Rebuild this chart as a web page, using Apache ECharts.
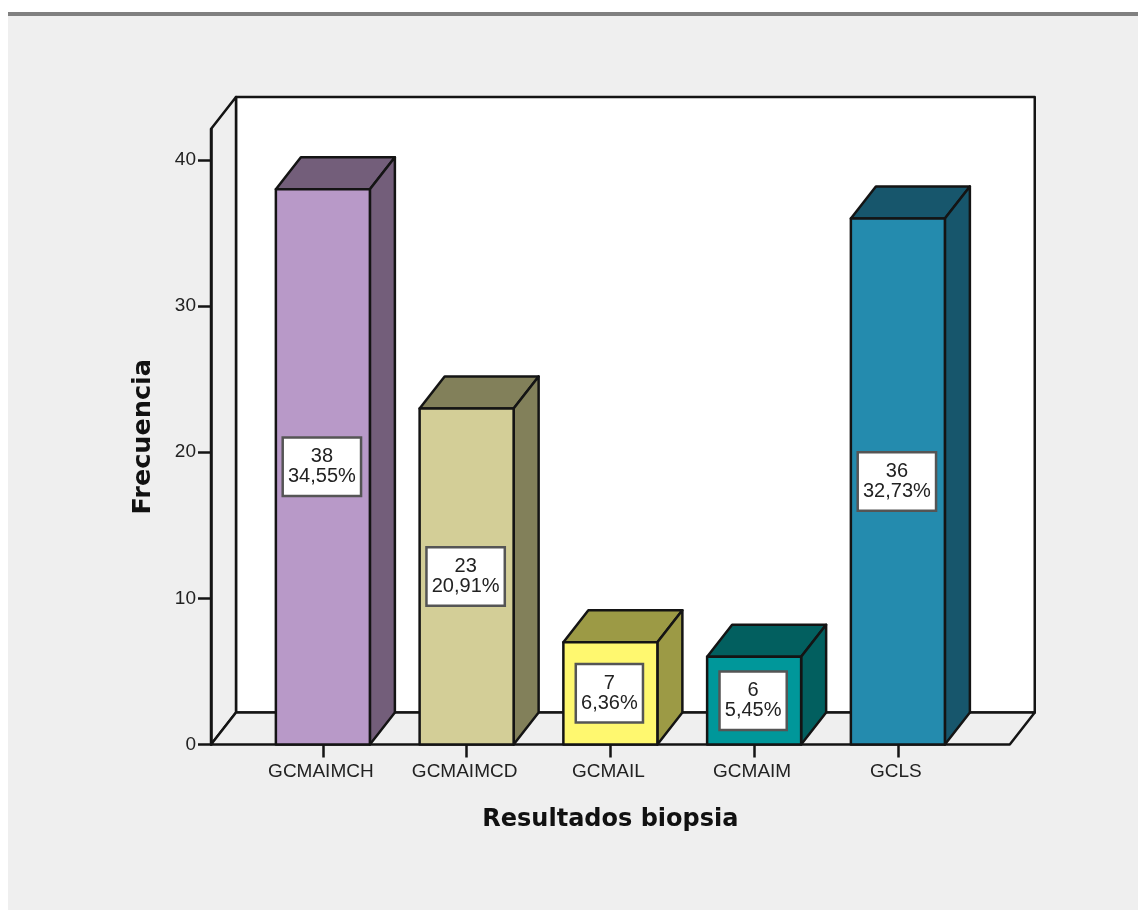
<!DOCTYPE html>
<html>
<head>
<meta charset="utf-8">
<title>Resultados biopsia</title>
<script src="https://cdn.jsdelivr.net/npm/echarts@6/dist/echarts.min.js"></script>
<style>
  html, body { margin: 0; padding: 0; background: #fff; overflow: hidden; }
  #chart {
    position: absolute; left: 8px; top: 12px;
    width: 1130px; height: 894px;
    border-top: 4px solid #808080;
  }
</style>
</head>
<body>
<div id="chart"></div>
<script>
// Frequencies by biopsy result
const categories = ['GCMAIMCH', 'GCMAIMCD', 'GCMAIL', 'GCMAIM', 'GCLS'];
const frequencies = [38, 23, 7, 6, 36];
const percentages = ['34,55%', '20,91%', '6,36%', '5,45%', '32,73%'];
const yTicks = [0, 10, 20, 30, 40];

// Face colours per bar: [front, top and side]
const palette = [
  ['#B899C8', '#735E7A'],
  ['#D3CE97', '#82805A'],
  ['#FFF86F', '#9C9A45'],
  ['#00979A', '#025F5F'],
  ['#248BAE', '#17566C']
];

const FONT = '"Liberation Sans", Arial, sans-serif';
const INK = '#141414';
const DEPTH_X = 25;      // receding offset of the 3D walls and bars
const DEPTH_Y = 32;
const FLOOR_PAD = 40;    // floor extends past the category band on each side
const BAR_RATIO = 0.654;

const edge = { stroke: INK, lineWidth: 2.5, lineJoin: 'round' };

function poly(points, fill) {
  return { type: 'polygon', shape: { points }, style: Object.assign({ fill }, edge) };
}

// Back wall, left wall and floor of the box
function renderFrame(params, api) {
  const c = params.coordSys;
  const l = c.x - FLOOR_PAD, r = c.x + c.width + FLOOR_PAD;
  const t = c.y, b = c.y + c.height;
  return {
    type: 'group',
    children: [
      poly([[l + DEPTH_X, t - DEPTH_Y], [r + DEPTH_X, t - DEPTH_Y],
            [r + DEPTH_X, b - DEPTH_Y], [l + DEPTH_X, b - DEPTH_Y]], '#ffffff'),
      poly([[l, t], [l + DEPTH_X, t - DEPTH_Y], [l + DEPTH_X, b - DEPTH_Y], [l, b]], '#EFEFEF'),
      poly([[l, b], [l + DEPTH_X, b - DEPTH_Y], [r + DEPTH_X, b - DEPTH_Y], [r, b]], '#EFEFEF')
    ]
  };
}

// One extruded bar with its value box in the middle of the front face
function renderBar(params, api) {
  const i = api.value(0);
  const top = api.coord([i, api.value(1)]);
  const base = api.coord([i, 0]);
  const w = api.size([1, 0])[0] * BAR_RATIO;
  const x0 = top[0] - w / 2, x1 = top[0] + w / 2;
  const y0 = top[1], y1 = base[1];
  const [front, dark] = palette[i];
  return {
    type: 'group',
    children: [
      poly([[x0, y0], [x0 + DEPTH_X, y0 - DEPTH_Y], [x1 + DEPTH_X, y0 - DEPTH_Y], [x1, y0]], dark),
      poly([[x1, y0], [x1 + DEPTH_X, y0 - DEPTH_Y], [x1 + DEPTH_X, y1 - DEPTH_Y], [x1, y1]], dark),
      { type: 'rect', shape: { x: x0, y: y0, width: w, height: y1 - y0 },
        style: Object.assign({ fill: front }, edge) },
      { type: 'text', z2: 10,
        style: {
          x: top[0] - 1, y: (y0 + y1) / 2,
          text: frequencies[i] + '\n' + percentages[i],
          align: 'center', verticalAlign: 'middle',
          font: '20px ' + FONT, lineHeight: 20, fill: '#222',
          backgroundColor: '#fff', borderColor: '#555', borderWidth: 2.5,
          padding: [8, 4, 8, 4]
        } }
    ]
  };
}

const chart = echarts.init(document.getElementById('chart'));
chart.setOption({
  animation: false,
  backgroundColor: '#EFEFEF',
  grid: { left: 243, top: 113, width: 718.75, height: 615.5 },
  xAxis: {
    type: 'category',
    data: categories,
    name: 'Resultados biopsia',
    nameLocation: 'middle',
    nameGap: 63,
    nameTextStyle: { fontFamily: '"DejaVu Sans"', fontWeight: 'bold', fontSize: 24, color: '#111' },
    axisLine: { show: false },
    axisTick: { show: true, alignWithLabel: true, length: 13, lineStyle: { color: INK, width: 2.5 } },
    axisLabel: { fontFamily: FONT, fontSize: 19, color: '#222', margin: 18, interval: 0, padding: [0, 4, 0, 0] },
    splitLine: { show: false }
  },
  yAxis: {
    type: 'value',
    min: 0,
    max: 42.12,
    offset: 40,
    z: 3,
    name: 'Frecuencia',
    nameLocation: 'middle',
    nameGap: 55,
    nameTextStyle: { fontFamily: '"DejaVu Sans"', fontWeight: 'bold', fontSize: 25.5, color: '#111' },
    axisLine: { show: true, lineStyle: { color: INK, width: 2.5 } },
    axisTick: { show: true, length: 13, customValues: yTicks, lineStyle: { color: INK, width: 2.5 } },
    axisLabel: { fontFamily: FONT, fontSize: 19, color: '#222', margin: 15, customValues: yTicks, padding: [2, 0, 0, 0] },
    splitLine: { show: false }
  },
  series: [
    {
      type: 'custom', z: 1, silent: true, clip: false,
      renderItem: renderFrame,
      data: [[0, 0]]
    },
    {
      type: 'custom', z: 4, silent: true, clip: false,
      renderItem: renderBar,
      data: frequencies.map((v, i) => [i, v])
    }
  ]
});
</script>
</body>
</html>
